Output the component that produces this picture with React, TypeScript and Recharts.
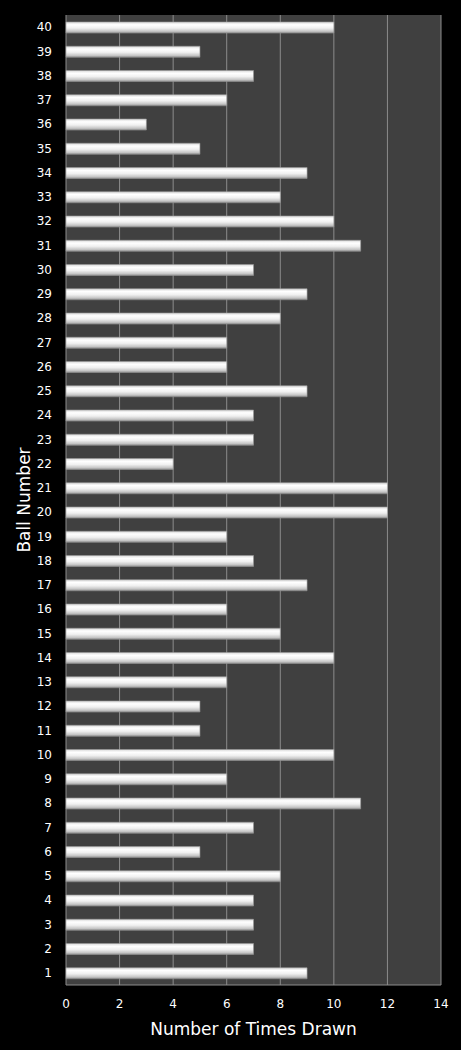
import React from "react";
import { BarChart, Bar, XAxis, YAxis, CartesianGrid } from "recharts";

const balls = [
  "1", "2", "3", "4", "5", "6", "7", "8", "9", "10",
  "11", "12", "13", "14", "15", "16", "17", "18", "19", "20",
  "21", "22", "23", "24", "25", "26", "27", "28", "29", "30",
  "31", "32", "33", "34", "35", "36", "37", "38", "39", "40",
];
const timesDrawn = [
  9, 7, 7, 7, 8, 5, 7, 11, 6, 10,
  5, 5, 6, 10, 8, 6, 9, 7, 6, 12,
  12, 4, 7, 7, 9, 6, 6, 8, 9, 7,
  11, 10, 8, 9, 5, 3, 6, 7, 5, 10,
];
const xTicks = [0, 2, 4, 6, 8, 10, 12, 14];

const data = balls
  .map((b, i) => ({ ball: b, count: timesDrawn[i] }))
  .reverse();

const FONT = "'DejaVu Sans', Verdana, sans-serif";

export default function App() {
  return (
    <div
      style={{
        position: "absolute",
        left: 0,
        top: 0,
        width: 461,
        height: 1050,
        background: "#000000",
      }}
    >
      <BarChart
        layout="vertical"
        width={461}
        height={1050}
        data={data}
        margin={{ top: 15, right: 20, bottom: 0, left: 0 }}
        barCategoryGap={0}
      >
        <defs>
          <linearGradient id="barGrad" x1="0" y1="0" x2="0" y2="1">
            <stop offset="0%" stopColor="#d8d8d8" />
            <stop offset="25%" stopColor="#ffffff" />
            <stop offset="55%" stopColor="#f0f0f0" />
            <stop offset="85%" stopColor="#c4c4c4" />
            <stop offset="100%" stopColor="#8c8c8c" />
          </linearGradient>
        </defs>
        <CartesianGrid
          horizontal={false}
          vertical={true}
          stroke="#8c8c8c"
          fill="#404040"
          fillOpacity={1}
        />
        <XAxis
          type="number"
          domain={[0, 14]}
          ticks={xTicks}
          interval={0}
          tickLine={false}
          axisLine={{ stroke: "#8c8c8c" }}
          tick={{ fill: "#ffffff", fontSize: 12, fontFamily: FONT }}
          tickMargin={8}
          height={65}
          label={{
            value: "Number of Times Drawn",
            position: "insideBottom",
            offset: 15,
            fill: "#ffffff",
            fontSize: 17,
            fontFamily: FONT,
          }}
        />
        <YAxis
          type="category"
          dataKey="ball"
          width={66}
          interval={0}
          tickLine={false}
          tickSize={0}
          axisLine={false}
          tick={{ fill: "#ffffff", fontSize: 12, fontFamily: FONT }}
          tickMargin={14}
          label={{
            value: "Ball Number",
            angle: -90,
            position: "insideLeft",
            offset: 24,
            fill: "#ffffff",
            fontSize: 17,
            fontFamily: FONT,
            style: { textAnchor: "middle" },
          }}
        />
        <Bar
          dataKey="count"
          barSize={11}
          fill="url(#barGrad)"
          stroke="#9a9a9a"
          strokeWidth={0.6}
          isAnimationActive={false}
        />
      </BarChart>
    </div>
  );
}
